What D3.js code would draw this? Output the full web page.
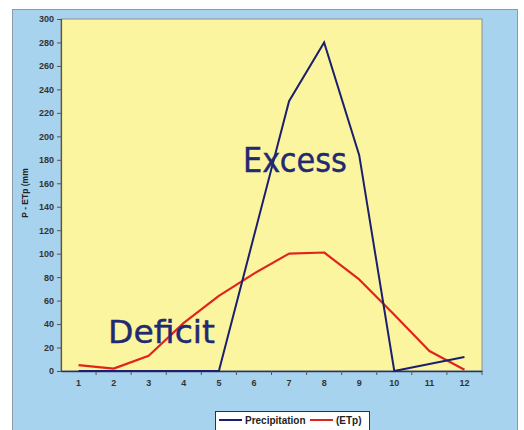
<!DOCTYPE html>
<html><head><meta charset="utf-8">
<script src="https://cdn.jsdelivr.net/npm/d3@7"></script>
<style>body{margin:0;background:#fff}svg{display:block}</style>
</head><body><svg id="c" width="524" height="430"></svg>
<script>
const months = ["1","2","3","4","5","6","7","8","9","10","11","12"];
const precipitation = [0,0,0,0,0,115,230,280,184,0,6,12];
const etp = [5,2,13,41,64,83,100,101,78,48,17,1];
const yTicks = [0,20,40,60,80,100,120,140,160,180,200,220,240,260,280,300];
const seriesNames = ["Precipitation","(ETp)"];

const svg = d3.select("#c");
const L=61, R=482, T=19, B=371;
// outer blue chart area
svg.append("rect").attr("x",12.5).attr("y",9.5).attr("width",505).attr("height",440)
  .attr("fill","#a8d3ee").attr("stroke","#8a9aa6").attr("stroke-width",1);
// plot area
svg.append("rect").attr("x",L).attr("y",T).attr("width",R-L).attr("height",B-T)
  .attr("fill","#fcf59f").attr("stroke","#8f8f8a").attr("stroke-width",1);

const x = d3.scaleBand().domain(months).range([L,R]).padding(0);
const y = d3.scaleLinear().domain([0,300]).range([B,T]);

// y axis
const ya = svg.append("g").attr("transform",`translate(${L},0)`)
  .call(d3.axisLeft(y).tickValues(yTicks).tickSize(4).tickPadding(3));
ya.select(".domain").attr("stroke","#555").attr("stroke-width",1.2);
ya.selectAll(".tick line").attr("stroke","#555");
ya.selectAll("text").attr("font-family","Liberation Sans, Arial, sans-serif")
  .attr("font-size",9).attr("font-weight","bold").attr("fill","#333");

// x axis with ticks between categories
const xa = svg.append("g").attr("transform",`translate(0,${B})`)
  .call(d3.axisBottom(x).tickSize(0).tickPadding(9));
xa.select(".domain").attr("stroke","#2b3266").attr("stroke-width",1.5);
xa.selectAll("text").attr("font-family","Liberation Sans, Arial, sans-serif")
  .attr("font-size",9).attr("font-weight","bold").attr("fill","#333");
xa.selectAll(".sep").data(months.slice(1).concat(["end"])).enter().append("line")
  .attr("x1",(d,i)=>L+x.bandwidth()*(i+1)).attr("x2",(d,i)=>L+x.bandwidth()*(i+1))
  .attr("y1",0).attr("y2",4).attr("stroke","#555");

// y title
svg.append("text").attr("transform","translate(28,193) rotate(-90)")
  .attr("text-anchor","middle").attr("font-family","Liberation Sans, Arial, sans-serif")
  .attr("font-size",8.5).attr("font-weight","bold").attr("fill","#222").text("P - ETp (mm");

const cx = d => x(d)+x.bandwidth()/2;
const line = arr => d3.line().x((d,i)=>cx(months[i])).y(d=>y(d))(arr);

svg.append("path").attr("d",line(etp)).attr("fill","none")
  .attr("stroke","#e0241c").attr("stroke-width",2.2).attr("stroke-linejoin","round");
svg.append("path").attr("d",line(precipitation)).attr("fill","none")
  .attr("stroke","#1c1f6e").attr("stroke-width",2).attr("stroke-linejoin","miter");

// annotations
const annFont = "'Comic Sans MS', 'DejaVu Sans', sans-serif";
svg.append("text").attr("x",243).attr("y",172).attr("font-family",annFont)
  .attr("font-size",33).attr("fill","#1f2a72").attr("stroke","#1f2a72").attr("stroke-width",0.4)
  .attr("textLength",104).attr("lengthAdjust","spacingAndGlyphs").text("Excess");
svg.append("text").attr("x",108).attr("y",343).attr("font-family",annFont)
  .attr("font-size",32).attr("fill","#1f2a72").attr("stroke","#1f2a72").attr("stroke-width",0.4)
  .attr("textLength",107).attr("lengthAdjust","spacingAndGlyphs").text("Deficit");

// legend
const lg = svg.append("g");
lg.append("rect").attr("x",215.5).attr("y",411.5).attr("width",154).attr("height",30)
  .attr("fill","#fff").attr("stroke","#333").attr("stroke-width",1);
const colors = ["#1c1f6e","#e0241c"];
const lx = [219,310];
seriesNames.forEach((n,i)=>{
  lg.append("line").attr("x1",lx[i]).attr("x2",lx[i]+23).attr("y1",420).attr("y2",420)
    .attr("stroke",colors[i]).attr("stroke-width",2);
  lg.append("text").attr("x",lx[i]+26).attr("y",423.5).attr("font-family","Liberation Sans, Arial, sans-serif")
    .attr("font-size",10).attr("font-weight","bold").attr("fill","#222").text(n);
});
</script></body></html>
